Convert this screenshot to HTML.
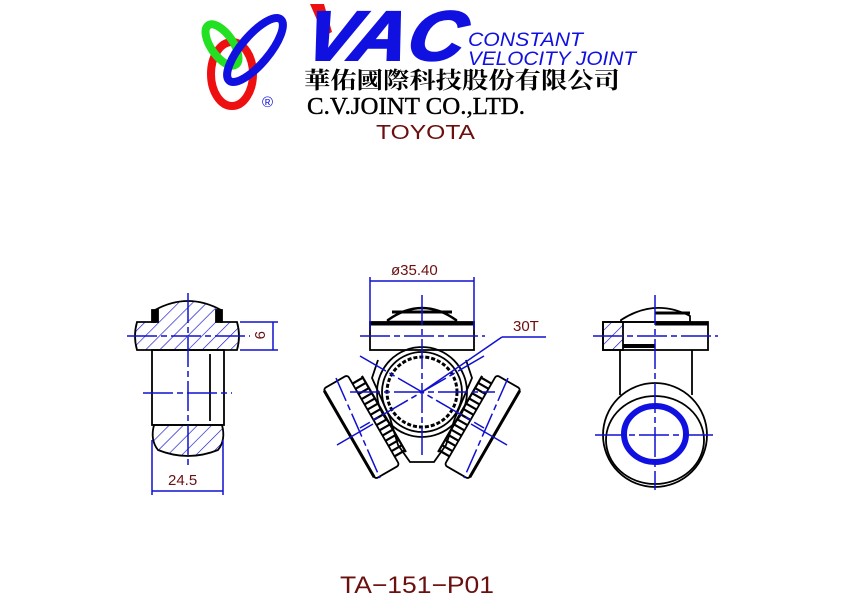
<!DOCTYPE html>
<html><head><meta charset="utf-8"><style>
html,body{margin:0;padding:0;background:#fff;}
svg{display:block}
</style></head><body>
<svg width="842" height="596" viewBox="0 0 842 596" xmlns="http://www.w3.org/2000/svg">
<defs>
<pattern id="h" width="10" height="10" patternUnits="userSpaceOnUse" patternTransform="rotate(45)">
<line x1="0" y1="0" x2="0" y2="10" stroke="#1010d0" stroke-width="1.3"/>
</pattern>
</defs>
<rect width="842" height="596" fill="#fff"/>
<!-- Logo -->
<ellipse cx="232" cy="74" rx="21" ry="32" fill="none" stroke="#ee1010" stroke-width="8"/>
<ellipse cx="222" cy="45" rx="11" ry="24" transform="rotate(-35 222 45)" fill="none" stroke="#22e022" stroke-width="8"/>
<ellipse cx="255" cy="50" rx="14" ry="40" transform="rotate(40 255 50)" fill="none" stroke="#1010e0" stroke-width="8"/>
<text x="262" y="107" font-family="Liberation Sans, sans-serif" font-size="15" fill="#1010e0">®</text>
<polygon points="310,4 324,4 332,32 324,36" fill="#ee1010"/>
<text x="300" y="60" font-family="Liberation Sans, sans-serif" font-weight="bold" font-style="italic" font-size="70" fill="#1010e0" stroke="#1010e0" stroke-width="2" textLength="160" lengthAdjust="spacingAndGlyphs" transform="skewX(-12) translate(14,0)">VAC</text>
<text x="468" y="46" font-family="Liberation Sans, sans-serif" font-style="italic" font-size="19" fill="#1010e0" textLength="115" lengthAdjust="spacingAndGlyphs">CONSTANT</text>
<text x="468" y="65" font-family="Liberation Sans, sans-serif" font-style="italic" font-size="19" fill="#1010e0" textLength="168" lengthAdjust="spacingAndGlyphs">VELOCITY  JOINT</text>
<text x="304" y="88" font-family="Liberation Serif, 'Noto Serif CJK SC', serif" font-weight="bold" font-size="23" fill="#000" textLength="316" lengthAdjust="spacingAndGlyphs">華佑國際科技股份有限公司</text>
<text x="307" y="114" font-family="Liberation Serif, serif" font-size="24" fill="#000" stroke="#000" stroke-width="0.4" textLength="218" lengthAdjust="spacingAndGlyphs">C.V.JOINT CO.,LTD.</text>
<text x="376" y="139" font-family="Liberation Sans, sans-serif" font-size="20" fill="#6b0f0f" textLength="99" lengthAdjust="spacingAndGlyphs">TOYOTA</text>

<g fill="none" stroke="#000" stroke-width="1.8">
<!-- Left view -->
<path d="M155,322 L155,310 Q188,292 221,310 L221,322 L237,322 Q241,336 237,350 L221,350 L221,350 L155,350 L137,350 Q133,336 137,322 Z" fill="url(#h)"/>
<rect x="152" y="350" width="72" height="75"/>
<line x1="210" y1="354" x2="210" y2="421"/>
<path d="M154,425 L222,425 Q226,440 218,450 Q188,462 158,450 Q150,440 154,425 Z" fill="url(#h)"/>
<rect x="152" y="310" width="6" height="12" fill="#000"/>
<rect x="216" y="310" width="6" height="12" fill="#000"/>
</g>
<g stroke="#1010d0" stroke-width="1.5" fill="none">
<line x1="188" y1="293" x2="188" y2="465" stroke-dasharray="30,4,6,4"/>
<line x1="127" y1="336" x2="250" y2="336" stroke-dasharray="30,4,6,4"/>
<line x1="143" y1="393" x2="232" y2="393" stroke-dasharray="30,4,6,4"/>
<line x1="152" y1="440" x2="152" y2="495"/><line x1="223" y1="440" x2="223" y2="495"/>
<line x1="152" y1="491" x2="223" y2="491"/>
<line x1="240" y1="322" x2="278" y2="322"/><line x1="240" y1="350" x2="278" y2="350"/>
<line x1="273" y1="322" x2="273" y2="350"/>
</g>
<text x="168" y="485" font-family="Liberation Sans, sans-serif" font-size="15" fill="#6b0f0f">24.5</text>
<text x="0" y="0" font-family="Liberation Sans, sans-serif" font-size="15" fill="#6b0f0f" transform="translate(255,331) rotate(90)">9</text>

<!-- Middle view -->
<g fill="none" stroke="#000" stroke-width="1.8">
<path d="M388,320 Q422,296 456,320 L456,322 L388,322 Z" fill="#fff" stroke-width="2.5"/>
<line x1="392" y1="312" x2="452" y2="312" stroke-width="3"/>
<rect x="370" y="322" width="104" height="28" fill="#fff"/>
<line x1="370" y1="324" x2="474" y2="324" stroke-width="3"/>
<path d="M378,360 L372,378 L390,418 L398,445 L410,462 L434,462 L446,445 L455,418 L472,378 L466,360"/>
<circle cx="422" cy="392" r="45"/>
<circle cx="422" cy="392" r="40"/>
<circle cx="422" cy="392" r="35" stroke-width="3" stroke-dasharray="4,2"/>
<g transform="rotate(-120 422 392) translate(0,-14)">
<rect x="370" y="322" width="104" height="28" fill="#fff" rx="3"/>
<line x1="372" y1="322" x2="472" y2="322" stroke-width="3"/>
<g stroke-width="2.2">
<path d="M380,350 L380,362 M386,350 L386,362 M392,350 L392,362 M398,350 L398,362 M404,350 L404,362 M410,350 L410,362 M416,350 L416,362 M422,350 L422,362 M428,350 L428,362 M434,350 L434,362 M440,350 L440,362 M446,350 L446,362 M452,350 L452,362 M458,350 L458,362 M464,350 L464,362"/>
<line x1="378" y1="362" x2="466" y2="362"/>
</g>
</g>
<g transform="rotate(120 422 392) translate(0,-14)">
<rect x="370" y="322" width="104" height="28" fill="#fff" rx="3"/>
<line x1="372" y1="322" x2="472" y2="322" stroke-width="3"/>
<g stroke-width="2.2">
<path d="M380,350 L380,362 M386,350 L386,362 M392,350 L392,362 M398,350 L398,362 M404,350 L404,362 M410,350 L410,362 M416,350 L416,362 M422,350 L422,362 M428,350 L428,362 M434,350 L434,362 M440,350 L440,362 M446,350 L446,362 M452,350 L452,362 M458,350 L458,362 M464,350 L464,362"/>
<line x1="378" y1="362" x2="466" y2="362"/>
</g>
</g>
</g>
<g stroke="#1010d0" stroke-width="1.5" fill="none">
<line x1="422" y1="295" x2="422" y2="455" stroke-dasharray="30,4,6,4"/>
<line x1="360" y1="336" x2="485" y2="336" stroke-dasharray="30,4,6,4"/>
<line x1="350" y1="392" x2="495" y2="392" stroke-dasharray="30,4,6,4"/>
<line x1="360" y1="356" x2="484" y2="428" stroke-dasharray="30,4,6,4"/>
<line x1="484" y1="356" x2="360" y2="428" stroke-dasharray="30,4,6,4"/>
<line x1="336" y1="378" x2="380" y2="478" stroke-dasharray="25,4,6,4"/>
<line x1="508" y1="378" x2="464" y2="478" stroke-dasharray="25,4,6,4"/>
<line x1="337" y1="445" x2="373" y2="424"/>
<line x1="507" y1="445" x2="471" y2="424"/>
<line x1="370" y1="277" x2="370" y2="330"/><line x1="474" y1="277" x2="474" y2="330"/>
<line x1="370" y1="281" x2="474" y2="281"/>
<line x1="422" y1="392" x2="502" y2="337"/><line x1="502" y1="337" x2="546" y2="337"/>
</g>
<text x="391" y="275" font-family="Liberation Sans, sans-serif" font-size="15" fill="#6b0f0f">ø35.40</text>
<text x="513" y="331" font-family="Liberation Sans, sans-serif" font-size="15" fill="#6b0f0f">30T</text>

<!-- Right view -->
<g fill="none" stroke="#000" stroke-width="1.8">
<path d="M621,320 Q655,298 690,316 L690,322 L621,322 Z"/>
<line x1="655" y1="313" x2="690" y2="313" stroke-width="3"/>
<rect x="603" y="322" width="105" height="28"/>
<line x1="655" y1="324" x2="708" y2="324" stroke-width="3"/>
<line x1="623" y1="346" x2="655" y2="346" stroke-width="4"/>
<rect x="603" y="322" width="20" height="28" fill="url(#h)"/>
<line x1="620" y1="350" x2="620" y2="395"/><line x1="692" y1="350" x2="692" y2="395"/>
<circle cx="655" cy="435" r="52"/>
<ellipse cx="655" cy="440" rx="49" ry="44"/>
</g>
<ellipse cx="655" cy="434" rx="31" ry="28" fill="none" stroke="#1010e0" stroke-width="6"/>
<g stroke="#1010d0" stroke-width="1.5" fill="none">
<line x1="655" y1="295" x2="655" y2="490" stroke-dasharray="30,4,6,4"/>
<line x1="593" y1="336" x2="718" y2="336" stroke-dasharray="30,4,6,4"/>
<line x1="595" y1="435" x2="716" y2="435" stroke-dasharray="30,4,6,4"/>
</g>

<text x="340" y="593" font-family="Liberation Sans, sans-serif" font-size="24" fill="#6b0f0f" textLength="154" lengthAdjust="spacingAndGlyphs">TA−151−P01</text>
</svg>
</body></html>
